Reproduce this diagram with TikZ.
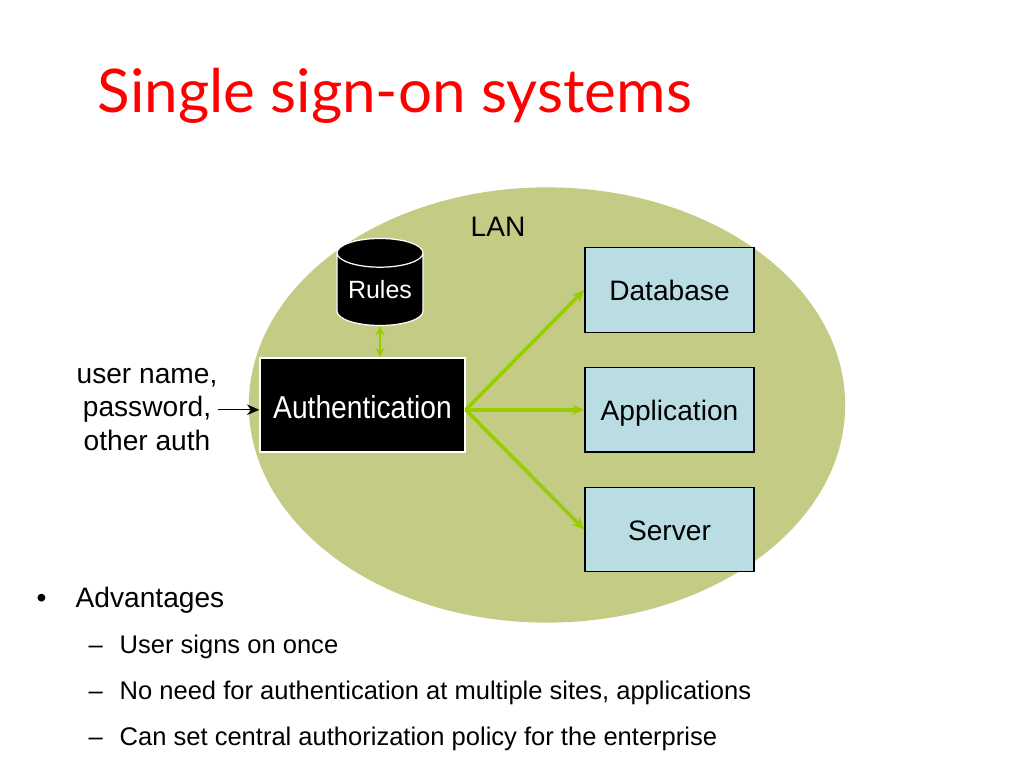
\documentclass[tikz,border=0pt]{standalone}
\usepackage{fontspec}
\setmainfont{Liberation Sans}
\newfontfamily\titlefont{Lato}
\usetikzlibrary{arrows.meta, positioning, shapes.geometric}
\definecolor{lanfill}{HTML}{C3CB84}
\definecolor{boxfill}{HTML}{B9DDE2}
\definecolor{linkgreen}{HTML}{99CC00}
\begin{document}
\begin{tikzpicture}[
	x = 0.01cm, y = -0.01cm,
	> = {Stealth[length=3.5pt,width=3pt]},
	server/.style = {draw=black, line width=0.35pt, fill=boxfill, minimum width=1.69cm, minimum height=0.845cm, inner sep=0pt, text height=6.2pt, text depth=0pt, font=\fontsize{8pt}{9pt}\selectfont},
	blackbox/.style = {draw=white, line width=0.35pt, fill=black, text=white, inner sep=0pt},
	link/.style = {->, draw=linkgreen, line width=1pt},
	point/.style = {anchor=base west, inner sep=0pt, font=\fontsize{7.26pt}{8pt}\selectfont}
	]
	\useasboundingbox (0,0) rectangle (1024,768);
	\node[ellipse, fill=lanfill, minimum width=5.96cm, minimum height=4.35cm, inner sep=0pt] (lan) at (547,405) {};
	\node[font=\fontsize{8pt}{9pt}\selectfont, inner sep=0pt] (lanlabel) at (498,227) {LAN};
	\node[anchor=base west, inner sep=0pt, text=red, font=\titlefont\fontsize{17.1pt}{20pt}\selectfont] (title) at (97,113) {Single sign-on systems};
	% the three systems on the right
	\node[server] (database) at (669.5,290) {Database};
	\node[server, below=0.34cm of database] (application) {Application};
	\node[server, below=0.34cm of application] (srv) {Server};
	% authentication and its rules
	\node[blackbox, minimum width=2.05cm, minimum height=0.94cm, text height=7.6pt, text depth=0pt, font=\fontsize{9pt}{10pt}\selectfont] (auth) at (362.5,405) {\scalebox{0.89}[1]{Authentication}};
	\node[blackbox, cylinder, shape border rotate=90, aspect=0.45, minimum width=0.86cm, minimum height=0.87cm, font=\fontsize{7.1pt}{8pt}\selectfont] (rules) at (380,289.5) {Rules};
	\node[align=center, inner sep=0pt, font=\fontsize{8pt}{9.5pt}\selectfont] (creds) at (147,409.5) {user name,\\password,\\other auth};
	\draw[->, line width=0.35pt] (creds.east |- application.west) -- (auth.west |- application.west);
	\draw[{Stealth[length=2.6pt,width=2.4pt]}-{Stealth[length=2.6pt,width=2.4pt]}, draw=linkgreen, line width=0.5pt] (rules.south) -- (rules.south |- auth.north);
	\draw[link] (auth.east |- application.west) -- (database.west);
	\draw[link] (auth.east |- application.west) -- (application.west);
	\draw[link] (auth.east |- application.west) -- (srv.west);
	% bullet list
	\node[point, font=\fontsize{8pt}{9pt}\selectfont] (bullet) at (36,608) {•};
	\node[point, font=\fontsize{8pt}{9pt}\selectfont] (advantages) at (75,608) {Advantages};
	\node[point] (dasha) at (88,654) {–};
	\node[point] (once) at (119,654) {User signs on once};
	\node[point] (dashb) at (88,700) {–};
	\node[point] (sites) at (119,700) {No need for authentication at multiple sites, applications};
	\node[point] (dashc) at (88,746) {–};
	\node[point] (policy) at (119,746) {Can set central authorization policy for the enterprise};
\end{tikzpicture}
\end{document}
